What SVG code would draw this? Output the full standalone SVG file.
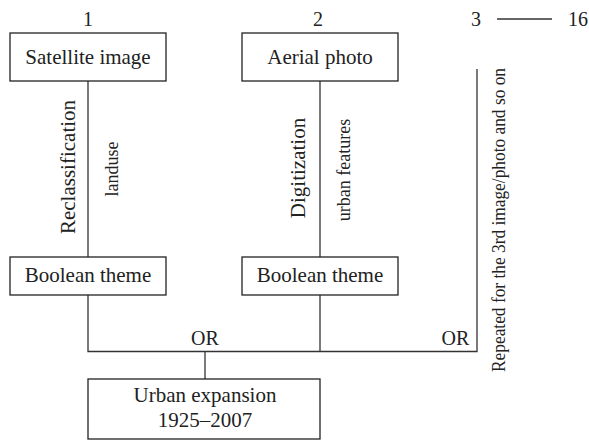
<svg xmlns="http://www.w3.org/2000/svg" width="589" height="440" viewBox="0 0 589 440">
<style>
.box{fill:#fff;stroke:#222;stroke-width:1.3}
.ln{fill:none;stroke:#333;stroke-width:1.3}
text{font-family:"Liberation Serif","Times New Roman",serif;fill:#222}
.t{font-size:21px;text-anchor:middle}
.n{font-size:20px;text-anchor:middle}
.s{font-size:18px;text-anchor:middle}
</style>
<rect width="589" height="440" fill="#fff"/>
<g id="connectors">
<line class="ln" x1="88" y1="81" x2="88" y2="257"/>
<line class="ln" x1="320" y1="81" x2="320" y2="257"/>
<polyline class="ln" points="88,295 88,351.5 477,351.5 477,69"/>
<line class="ln" x1="320" y1="295" x2="320" y2="351.5"/>
<line class="ln" x1="205" y1="351.5" x2="205" y2="379"/>
<line class="ln" x1="497" y1="19" x2="552" y2="19"/>
<text class="t" transform="translate(75,167) rotate(-90)">Reclassification</text>
<text class="s" transform="translate(118,169) rotate(-90)">landuse</text>
<text class="t" transform="translate(305,168) rotate(-90)">Digitization</text>
<text class="s" transform="translate(350,170) rotate(-90)">urban features</text>
<text class="s" transform="translate(505,220) rotate(-90)" textLength="304" lengthAdjust="spacingAndGlyphs">Repeated for the 3rd image/photo and so on</text>
<text class="n" x="205" y="345">OR</text>
<text class="n" x="455.5" y="345">OR</text>
</g>
<g id="num1"><text class="n" x="88" y="25.5">1</text></g>
<g id="num2"><text class="n" x="318" y="25.5">2</text></g>
<g id="num3"><text class="n" x="476" y="26">3</text></g>
<g id="num16"><text class="n" x="578" y="26">16</text></g>
<g id="satellite"><rect class="box" x="10" y="33" width="156" height="48"/><text class="t" x="88" y="63.5">Satellite image</text></g>
<g id="aerial"><rect class="box" x="242" y="33" width="156" height="48"/><text class="t" x="320" y="63.5">Aerial photo</text></g>
<g id="boolean1"><rect class="box" x="10" y="257" width="156" height="38"/><text class="t" x="88" y="281.5">Boolean theme</text></g>
<g id="boolean2"><rect class="box" x="242" y="257" width="156" height="38"/><text class="t" x="320" y="281.5">Boolean theme</text></g>
<g id="urban"><rect class="box" x="88" y="379" width="232" height="60"/><text class="t" x="205" y="401.5">Urban expansion</text><text class="t" x="205" y="426.5">1925–2007</text></g>
</svg>
